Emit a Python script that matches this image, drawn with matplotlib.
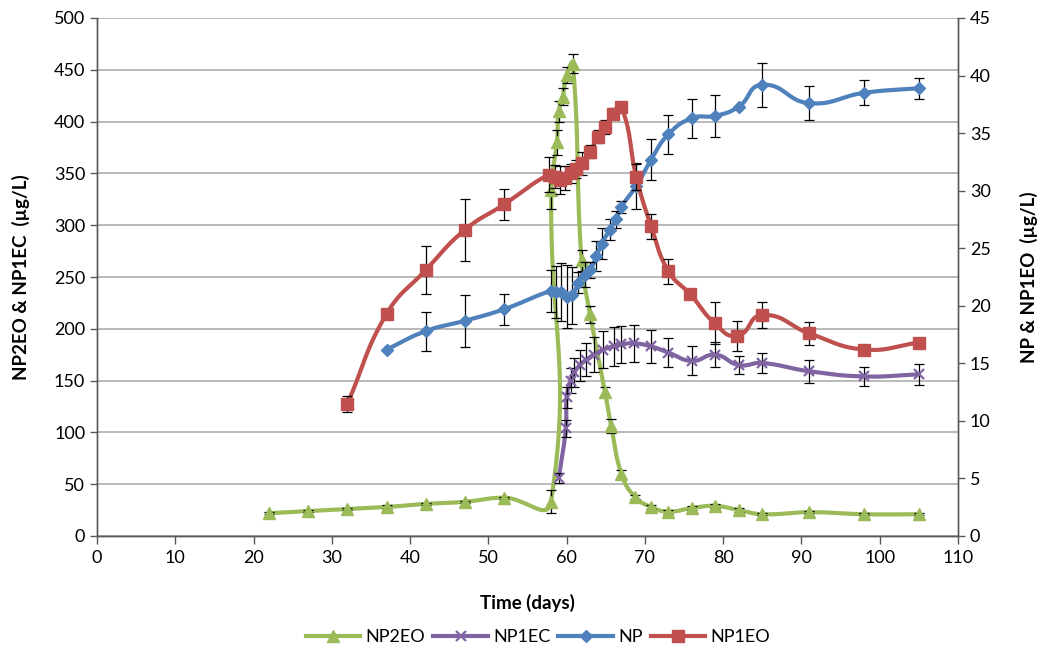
import numpy as np
import matplotlib
matplotlib.use('Agg')
import matplotlib.pyplot as plt
from matplotlib.lines import Line2D

plt.rcParams['font.family'] = ['Lato', 'DejaVu Sans']

# NP2EO (left axis, ug/L)
np2eo_day = [22, 27, 32, 37, 42, 47, 52, 58.0, 58.05, 58.75, 59.0, 59.5, 60.0, 60.8,
             61.9, 63.0, 64.9, 65.7, 67.0, 68.7, 70.8, 73, 76, 79, 82, 85, 91, 98, 105]
np2eo = [22, 24, 26, 28, 31, 33, 37, 33, 334, 380, 410, 424, 445, 456,
         266, 214, 139, 106, 60, 38, 28, 23.5, 27, 29, 25, 21, 23, 21, 21]
np2eo_err = [1, 1, 1, 2, 1, 1, 1, 11, 18, 12, 10, 8, 8, 9,
             10, 8, 5, 7, 4, 2, 2, 2, 2, 2, 2, 1, 1, 1, 1]

# NP1EC (left axis, ug/L)
np1ec_day = [59.0, 59.9, 60.0, 60.5, 61.0, 61.7, 62.5, 63.5, 64.7, 66.0, 67.0,
             68.6, 70.8, 73, 76, 79, 82, 85, 91, 98, 105]
np1ec = [56, 104, 134, 150, 158, 165, 170, 175, 180, 183, 185,
         186, 183, 177, 169, 175, 165, 167, 159, 154, 156]
np1ec_err = [5, 8, 10, 12, 14, 15, 16, 17, 18, 19, 18,
             18, 16, 14, 14, 12, 9, 10, 11, 9, 10]

# NP (right axis, ug/L)
np_day = [37, 42, 47, 52, 58.0, 58.7, 59.3, 60.0, 60.7, 61.5, 62.3, 63.0, 63.8, 64.5,
          65.5, 66.3, 67.0, 68.9, 70.8, 73, 76, 79, 82, 85, 91, 98, 105]
np_val = [16.2, 17.8, 18.7, 19.7, 21.3, 21.2, 21.2, 20.8, 20.9, 22.0, 22.7, 23.1, 24.3, 25.4,
          26.6, 27.5, 28.6, 30.4, 32.7, 34.9, 36.3, 36.5, 37.3, 39.2, 37.6, 38.5, 38.9]
np_err = [0, 1.7, 2.25, 1.35, 1.8, 2.25, 2.5, 2.7, 2.5, 0.9, 1.1, 0.7, 1.3, 1.35,
          0.9, 0.7, 0.5, 2.0, 1.8, 1.7, 1.7, 1.8, 0, 1.9, 1.45, 1.1, 0.9]

# NP1EO (right axis, ug/L)
np1eo_day = [32, 37, 42, 47, 52, 57.7, 58.5, 59.2, 59.8, 60.5, 61.2, 61.9, 63, 64,
             64.9, 65.9, 67, 68.9, 70.8, 73, 75.8, 78.9, 81.8, 85, 91, 98, 105]
np1eo = [11.5, 19.3, 23.1, 26.6, 28.8, 31.4, 31.2, 30.9, 31.1, 31.5, 31.9, 32.4, 33.4, 34.7,
         35.5, 36.7, 37.3, 31.2, 26.9, 23.0, 21.0, 18.5, 17.4, 19.2, 17.6, 16.2, 16.8]
np1eo_err = [0.7, 0, 2.1, 2.7, 1.35, 1.5, 1.0, 1.2, 1.0, 0.8, 0.8, 1.0, 0.6, 0.6,
             0.6, 0.5, 0.4, 1.1, 1.1, 1.1, 0, 1.8, 1.3, 1.1, 1.0, 0, 0]

GREEN, PURPLE, BLUE, RED = '#9BBB59', '#8064A2', '#4F81BD', '#C0504D'

W, H = 1043, 656
L, R, T, B = 97, 958, 18, 536
SX = (R - L) / 110.0


def smooth(xs, ys, sy, k=0.45, n=30):
    # Excel-like smoothed line, computed in screen-ish units
    p = np.column_stack([np.asarray(xs, float) * SX, np.asarray(ys, float) * sy])
    m = len(p)
    tang = np.zeros_like(p)
    for i in range(m):
        if i == 0:
            d = p[1] - p[0]
        elif i == m - 1:
            d = p[-1] - p[-2]
        else:
            d = p[i + 1] - p[i - 1]
        nrm = np.hypot(*d)
        tang[i] = d / nrm if nrm > 0 else d
    out = [p[0]]
    t = np.linspace(0, 1, n)[1:, None]
    for i in range(m - 1):
        seg = np.hypot(*(p[i + 1] - p[i]))
        c1 = p[i] + tang[i] * seg * k
        c2 = p[i + 1] - tang[i + 1] * seg * k
        b = ((1 - t) ** 3) * p[i] + 3 * ((1 - t) ** 2) * t * c1 + 3 * (1 - t) * t ** 2 * c2 + t ** 3 * p[i + 1]
        out.extend(b)
    out = np.array(out)
    return out[:, 0] / SX, out[:, 1] / sy


fig = plt.figure(figsize=(W / 100, H / 100), dpi=100)
ax = fig.add_axes([L / W, 1 - B / H, (R - L) / W, (B - T) / H])
ax2 = ax.twinx()

sy_left = (B - T) / 500.0
sy_right = (B - T) / 45.0

ax.set_xlim(0, 110)
ax.set_ylim(0, 500)
ax2.set_ylim(0, 45)

ax.set_xticks(range(0, 111, 10))
ax.set_yticks(range(0, 501, 50))
ax2.set_yticks(range(0, 46, 5))

ax.grid(axis='y', color='#A6A6A6', lw=1.1)
ax.set_axisbelow(True)

for a in (ax, ax2):
    a.spines['top'].set_visible(False)
    for s in ('left', 'right', 'bottom'):
        a.spines[s].set_color('#595959')
        a.spines[s].set_linewidth(1.0)
    a.tick_params(direction='out', length=5, width=1, color='#595959', labelsize=13)
ax.tick_params(axis='x', length=6, pad=4)

ebar = dict(fmt='none', ecolor='black', elinewidth=0.9, capsize=3.5, capthick=0.9)

# NP2EO
sx_, sy_ = smooth(np2eo_day, np2eo, sy_left)
ax.plot(sx_, sy_, color=GREEN, lw=3, solid_capstyle='round')
ax.errorbar(np2eo_day, np2eo, yerr=np2eo_err, **ebar)
ax.plot(np2eo_day, np2eo, ls='none', marker='^', ms=8, color=GREEN, mec=GREEN)

# NP1EC
sx_, sy_ = smooth(np1ec_day, np1ec, sy_left)
ax.plot(sx_, sy_, color=PURPLE, lw=3, solid_capstyle='round')
ax.errorbar(np1ec_day, np1ec, yerr=np1ec_err, **ebar)
ax.plot(np1ec_day, np1ec, ls='none', marker='x', ms=7, mew=1.6, color=PURPLE)

# NP
sx_, sy_ = smooth(np_day, np_val, sy_right)
ax2.plot(sx_, sy_, color=BLUE, lw=3, solid_capstyle='round')
ax2.errorbar(np_day, np_val, yerr=np_err, **ebar)
ax2.plot(np_day, np_val, ls='none', marker='D', ms=6.5, color=BLUE, mec=BLUE)

# NP1EO
sx_, sy_ = smooth(np1eo_day, np1eo, sy_right)
ax2.plot(sx_, sy_, color=RED, lw=3, solid_capstyle='round')
ax2.errorbar(np1eo_day, np1eo, yerr=np1eo_err, **ebar)
ax2.plot(np1eo_day, np1eo, ls='none', marker='s', ms=9, color=RED, mec=RED)

ax.set_xlabel('Time (days)', fontsize=13.5, fontweight='bold', labelpad=20)
ax.set_ylabel('NP2EO & NP1EC  (µg/L)', fontsize=13.5, fontweight='bold', labelpad=17)
ax2.set_ylabel('NP & NP1EO  (µg/L)', fontsize=13.5, fontweight='bold', rotation=90, labelpad=21)

handles = [
    Line2D([], [], color=GREEN, lw=3, marker='^', ms=8),
    Line2D([], [], color=PURPLE, lw=3, marker='x', ms=7, mew=1.6),
    Line2D([], [], color=BLUE, lw=3, marker='D', ms=6.5),
    Line2D([], [], color=RED, lw=3, marker='s', ms=9),
]
fig.legend(handles, ['NP2EO', 'NP1EC', 'NP', 'NP1EO'], loc='center',
           bbox_to_anchor=(538 / W, 1 - 637 / H), ncol=4, frameon=False,
           fontsize=13, handlelength=3.0, handletextpad=0.3, columnspacing=0.45)

fig.savefig('out.png', dpi=100)
